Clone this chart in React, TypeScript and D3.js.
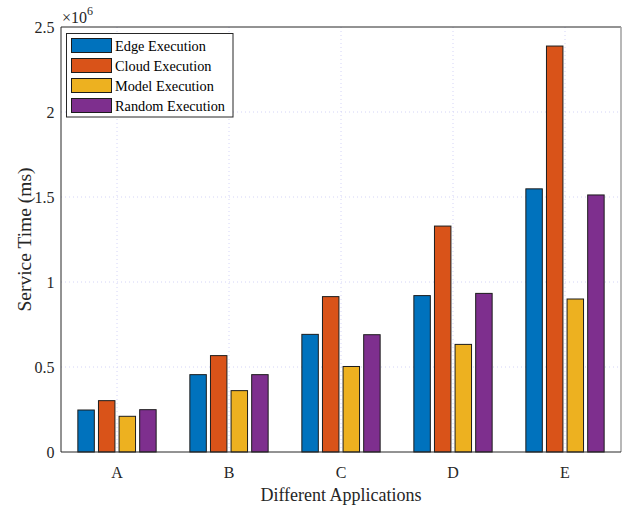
import React from "react";
import * as d3 from "d3";

const categories = ["A", "B", "C", "D", "E"];
const seriesNames = ["Edge Execution", "Cloud Execution", "Model Execution", "Random Execution"];
const edgeValues = [0.247e6, 0.455e6, 0.692e6, 0.92e6, 1.548e6];
const cloudValues = [0.302e6, 0.567e6, 0.914e6, 1.329e6, 2.388e6];
const modelValues = [0.21e6, 0.361e6, 0.503e6, 0.633e6, 0.9e6];
const randomValues = [0.249e6, 0.455e6, 0.69e6, 0.933e6, 1.512e6];
const yTicks = [0, 0.5e6, 1e6, 1.5e6, 2e6, 2.5e6];
const yTickLabels = ["0", "0.5", "1", "1.5", "2", "2.5"];
const colors = ["#0072BD", "#D95319", "#EDB120", "#7E2F8E"];

const W = 626;
const H = 508;
const plot = { left: 61, right: 621, top: 27, bottom: 452 };
const FONT = "'Liberation Serif', 'Times New Roman', serif";

export default function App() {
  const series = [edgeValues, cloudValues, modelValues, randomValues];
  const x = d3.scaleLinear().domain([0.5, categories.length + 0.5]).range([plot.left, plot.right]);
  const y = d3.scaleLinear().domain([0, 2.5e6]).range([plot.bottom, plot.top]);

  // grouped bar geometry in data units
  const pitch = 0.184;
  const barW = 0.147;

  const grid = "#d4d4f7";

  return (
    <svg
      width={W}
      height={H}
      style={{ position: "absolute", left: 0, top: 0, background: "#fff" }}
      fontFamily={FONT}
    >
      <rect x={0} y={0} width={W} height={H} fill="#fff" />
      {/* grid */}
      {yTicks.slice(1, -1).map((t) => (
        <line key={"gy" + t} x1={plot.left} x2={plot.right} y1={y(t)} y2={y(t)}
          stroke={grid} strokeWidth={1} strokeDasharray="1 3" />
      ))}
      {categories.map((c, i) => (
        <line key={"gx" + c} x1={x(i + 1)} x2={x(i + 1)} y1={plot.top} y2={plot.bottom}
          stroke={grid} strokeWidth={1} strokeDasharray="1 3" />
      ))}
      {/* bars */}
      {series.map((vals, s) =>
        vals.map((v, i) => {
          const cx = i + 1 + (s - 1.5) * pitch;
          const x0 = x(cx - barW / 2);
          const x1 = x(cx + barW / 2);
          return (
            <rect key={s + "-" + i} x={x0} y={y(v)} width={x1 - x0} height={y(0) - y(v)}
              fill={colors[s]} stroke="#1c1c1c" strokeWidth={1} />
          );
        })
      )}
      {/* axes box */}
      <line x1={plot.left} x2={plot.right} y1={plot.top} y2={plot.top} stroke="#262626" strokeWidth={1} />
      <line x1={plot.right} x2={plot.right} y1={plot.top} y2={plot.bottom} stroke="#a0a0a0" strokeWidth={1.5} />
      <line x1={plot.left} x2={plot.right} y1={plot.bottom} y2={plot.bottom} stroke="#262626" strokeWidth={1} />
      <line x1={plot.left} x2={plot.left} y1={plot.top} y2={plot.bottom} stroke="#262626" strokeWidth={1} />
      {/* y tick labels */}
      {yTicks.map((t, i) => (
        <text key={"yt" + t} x={54.5} y={y(t)} textAnchor="end" dominantBaseline="central"
          fontSize={16} fill="#262626">{yTickLabels[i]}</text>
      ))}
      {/* exponent */}
      <text x={62} y={23} fontSize={16} fill="#262626">
        ×10<tspan fontSize={12} dy={-8}>6</tspan>
      </text>
      {/* x tick labels */}
      {categories.map((c, i) => (
        <text key={"xt" + c} x={x(i + 1)} y={477.5} textAnchor="middle" fontSize={16} fill="#262626">{c}</text>
      ))}
      {/* axis titles */}
      <text x={(plot.left + plot.right) / 2} y={501} textAnchor="middle" fontSize={18} fill="#262626">
        Different Applications
      </text>
      <text transform={`translate(31,${(plot.top + plot.bottom) / 2}) rotate(-90)`} textAnchor="middle"
        fontSize={19.5} fill="#262626">Service Time (ms)</text>
      {/* legend */}
      <rect x={66.5} y={33.5} width={166.5} height={83.5} fill="#fff" stroke="#262626" strokeWidth={1} />
      {seriesNames.map((n, s) => (
        <g key={n}>
          <rect x={71.5} y={38.5 + s * 20} width={40} height={14} fill={colors[s]} stroke="#1c1c1c" strokeWidth={1} />
          <text x={115} y={50.5 + s * 20} fontSize={14.3} fill="#000">{n}</text>
        </g>
      ))}
    </svg>
  );
}
